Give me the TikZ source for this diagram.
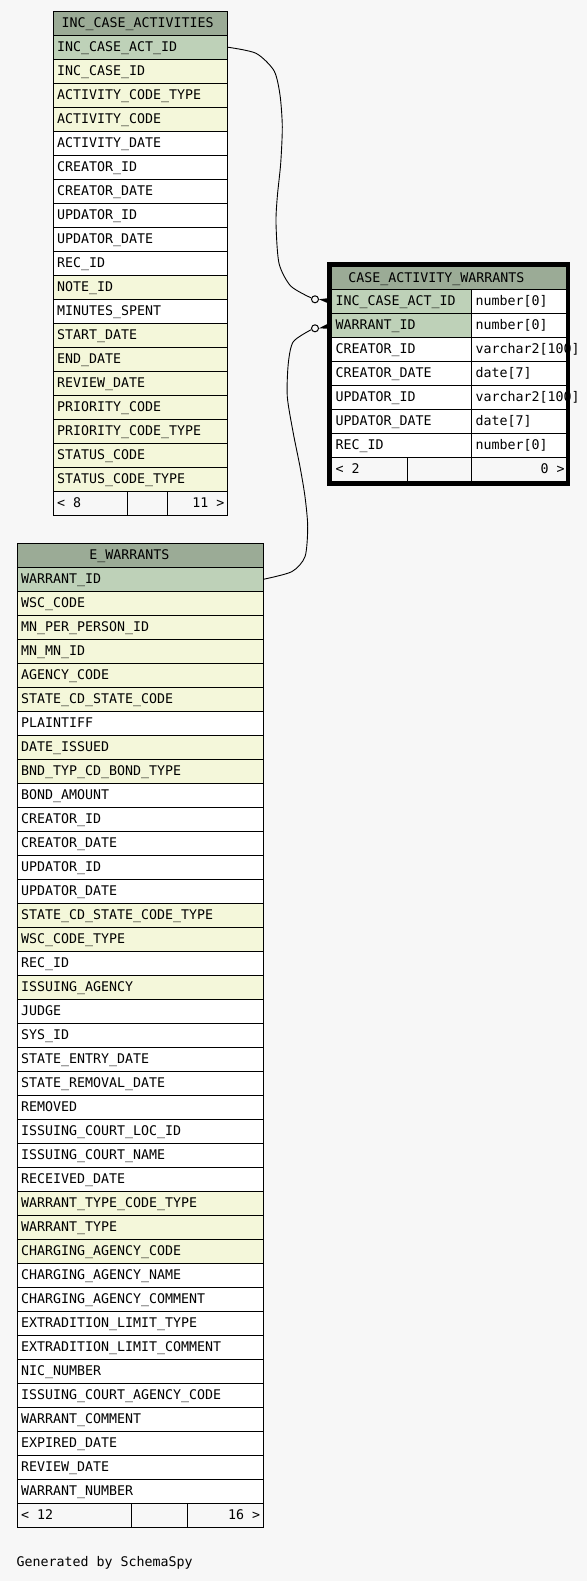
\documentclass[tikz,border=0pt]{standalone}
\usepackage{fontspec}
\newfontfamily\dvm{DejaVu Sans Mono}
\definecolor{bg}{HTML}{F7F7F7}
\definecolor{hd}{HTML}{9BAB96}
\definecolor{pk}{HTML}{BED1B8}
\definecolor{ix}{HTML}{F4F7DA}
\definecolor{wt}{HTML}{FFFFFF}
\newcommand\tabfont{\dvm\fontsize{13.29pt}{16pt}\selectfont}
\tikzset{
  cellbox/.style={draw=black, line width=1pt, rectangle, minimum height=24pt,
    inner sep=0pt, outer sep=0pt, anchor=north west},
  celltext/.style={anchor=base west, inner sep=0pt, outer sep=0pt, font=\tabfont},
  celltextr/.style={anchor=base east, inner sep=0pt, outer sep=0pt, font=\tabfont},
  conn/.style={draw=black, line width=0.9pt},
  odot/.style={circle, draw=black, fill=bg, line width=1pt, minimum size=7pt, inner sep=0pt},
}
% name, x, ytop, width, fill, text
\newcommand\cellrow[6]{%
  \node[cellbox, fill=#5, minimum width=#4pt] (#1) at (#2,{#3}) {};
  \node[celltext] (#1t) at ([xshift=3.8pt, yshift=-16.4pt]#1.north west) {#6};
}
\begin{document}
\begin{tikzpicture}[x=1pt,y=-1pt]
\fill[bg] (0,0) rectangle (587,1581);
\useasboundingbox (0,0) rectangle (587,1581);

% ---------- INC_CASE_ACTIVITIES ----------
\node[cellbox, fill=hd, minimum width=174.4pt, minimum height=23.5pt] (t1h) at (53.3,11.7) {};
\node[celltext] (t1ht) at ([xshift=8.4pt, yshift=-15.8pt]t1h.north west) {INC\_CASE\_ACTIVITIES};
\foreach [count=\i] \txt/\col in {INC\_CASE\_ACT\_ID/pk, INC\_CASE\_ID/ix, ACTIVITY\_CODE\_TYPE/ix,
  ACTIVITY\_CODE/ix, ACTIVITY\_DATE/wt, CREATOR\_ID/wt, CREATOR\_DATE/wt, UPDATOR\_ID/wt,
  UPDATOR\_DATE/wt, REC\_ID/wt, NOTE\_ID/ix, MINUTES\_SPENT/wt, START\_DATE/ix, END\_DATE/ix,
  REVIEW\_DATE/ix, PRIORITY\_CODE/ix, PRIORITY\_CODE\_TYPE/ix, STATUS\_CODE/ix, STATUS\_CODE\_TYPE/ix}
{\cellrow{t1r\i}{53.3}{35.2+24*(\i-1)}{174.4}{\col}{\txt}}
\node[cellbox, fill=bg, minimum width=74pt] (t1f1) at (53.3,491.2) {};
\node[cellbox, fill=bg, minimum width=40pt] (t1f2) at (127.3,491.2) {};
\node[cellbox, fill=bg, minimum width=60.4pt] (t1f3) at (167.3,491.2) {};
\node[celltext] (t1f1t) at ([xshift=3.8pt, yshift=-16.4pt]t1f1.north west) {< 8};
\node[celltextr] (t1f3t) at ([xshift=-3.2pt, yshift=-16.4pt]t1f3.north east) {11 >};

% ---------- E_WARRANTS ----------
\node[cellbox, fill=hd, minimum width=246pt] (ewh) at (17.3,543.3) {};
\node[celltext] (ewht) at ([xshift=72pt, yshift=-16pt]ewh.north west) {E\_WARRANTS};
\foreach [count=\i] \txt/\col in {WARRANT\_ID/pk, WSC\_CODE/ix, MN\_PER\_PERSON\_ID/ix, MN\_MN\_ID/ix,
  AGENCY\_CODE/ix, STATE\_CD\_STATE\_CODE/ix, PLAINTIFF/wt, DATE\_ISSUED/ix, BND\_TYP\_CD\_BOND\_TYPE/ix,
  BOND\_AMOUNT/wt, CREATOR\_ID/wt, CREATOR\_DATE/wt, UPDATOR\_ID/wt, UPDATOR\_DATE/wt,
  STATE\_CD\_STATE\_CODE\_TYPE/ix, WSC\_CODE\_TYPE/ix, REC\_ID/wt, ISSUING\_AGENCY/ix, JUDGE/wt,
  SYS\_ID/wt, STATE\_ENTRY\_DATE/wt, STATE\_REMOVAL\_DATE/wt, REMOVED/wt, ISSUING\_COURT\_LOC\_ID/wt,
  ISSUING\_COURT\_NAME/wt, RECEIVED\_DATE/wt, WARRANT\_TYPE\_CODE\_TYPE/ix, WARRANT\_TYPE/ix,
  CHARGING\_AGENCY\_CODE/ix, CHARGING\_AGENCY\_NAME/wt, CHARGING\_AGENCY\_COMMENT/wt,
  EXTRADITION\_LIMIT\_TYPE/wt, EXTRADITION\_LIMIT\_COMMENT/wt, NIC\_NUMBER/wt,
  ISSUING\_COURT\_AGENCY\_CODE/wt, WARRANT\_COMMENT/wt, EXPIRED\_DATE/wt, REVIEW\_DATE/wt,
  WARRANT\_NUMBER/wt}
{\cellrow{ew\i}{17.3}{567.3+24*(\i-1)}{246}{\col}{\txt}}
\node[cellbox, fill=bg, minimum width=114.4pt] (ewf1) at (17.3,1503.3) {};
\node[cellbox, fill=bg, minimum width=56pt] (ewf2) at (131.7,1503.3) {};
\node[cellbox, fill=bg, minimum width=75.6pt] (ewf3) at (187.7,1503.3) {};
\node[celltext] (ewf1t) at ([xshift=3.8pt, yshift=-16.4pt]ewf1.north west) {< 12};
\node[celltextr] (ewf3t) at ([xshift=-3.2pt, yshift=-16.4pt]ewf3.north east) {16 >};

% ---------- CASE_ACTIVITY_WARRANTS ----------
\node[cellbox, fill=hd, minimum width=234.3pt, minimum height=23.3pt] (cwh) at (331.7,266) {};
\node[celltext] (cwht) at ([xshift=16.6pt, yshift=-16.2pt]cwh.north west) {CASE\_ACTIVITY\_WARRANTS};
\foreach [count=\i] \a/\ca/\b in {INC\_CASE\_ACT\_ID/pk/number[0], WARRANT\_ID/pk/number[0],
  CREATOR\_ID/wt/varchar2[100], CREATOR\_DATE/wt/date[7], UPDATOR\_ID/wt/varchar2[100],
  UPDATOR\_DATE/wt/date[7], REC\_ID/wt/number[0]}
{\cellrow{ra\i}{331.7}{289.3+24*(\i-1)}{140}{\ca}{\a}
 \cellrow{rb\i}{471.7}{289.3+24*(\i-1)}{94.3}{wt}{\b}}
\node[cellbox, fill=bg, minimum width=75.6pt] (cwf1) at (331.7,457.3) {};
\node[cellbox, fill=bg, minimum width=64.4pt] (cwf2) at (407.3,457.3) {};
\node[cellbox, fill=bg, minimum width=94.3pt] (cwf3) at (471.7,457.3) {};
\node[celltext] (cwf1t) at ([xshift=3.8pt, yshift=-16.4pt]cwf1.north west) {< 2};
\node[celltextr] (cwf3t) at ([xshift=-1.5pt, yshift=-16.4pt]cwf3.north east) {0 >};
\draw[line width=4.2pt] (329.5,264) rectangle (568,483.4);

% ---------- connectors ----------
\node[odot] (c1) at (315,299.3) {};
\node[odot] (c2) at (315,328.3) {};
\draw[conn] plot[smooth, tension=0.45] coordinates {(t1r1.east) (256,53.3) (274,70.7) (280,95)
  (282.3,126.7) (280.7,163.3) (277.3,196.7) (276,223.3) (279,263.3) (290.7,286) (c1.160)};
\draw[conn] plot[smooth, tension=0.45] coordinates {(ew1.east) (291.7,571.7) (305,556.7)
  (307.7,526.7) (305,496.7) (300,466.7) (293.3,433.3) (287.3,396.7) (288.3,363.3)
  (293.3,341.7) (c2.200)};
\fill[black] (c1.east) -- ([yshift=3.6pt]ra1.west) -- ([yshift=-3.6pt]ra1.west) -- cycle;
\fill[black] (c2.east) -- ([yshift=3.6pt]ra2.west) -- ([yshift=-3.6pt]ra2.west) -- cycle;

% ---------- footer ----------
\node[celltext] (gen) at (16.7,1566.5) {Generated by SchemaSpy};
\end{tikzpicture}
\end{document}
